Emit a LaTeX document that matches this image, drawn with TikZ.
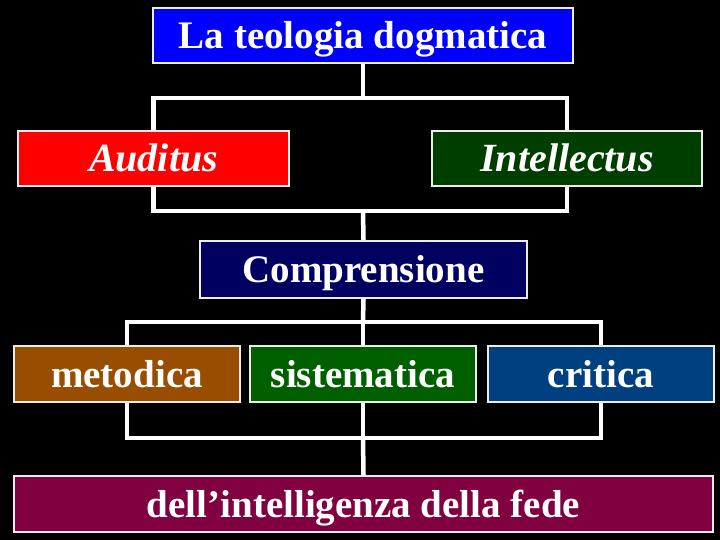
\documentclass[tikz,border=0pt]{standalone}
\usepackage{fontspec}
\setmainfont{Liberation Serif}
\usetikzlibrary{positioning}

\definecolor{blueTop}{RGB}{0,0,255}
\definecolor{redAud}{RGB}{255,0,0}
\definecolor{greenInt}{RGB}{0,62,0}
\definecolor{navyComp}{RGB}{0,0,96}
\definecolor{brownMet}{RGB}{153,77,0}
\definecolor{greenSis}{RGB}{0,96,0}
\definecolor{blueCrit}{RGB}{0,64,128}
\definecolor{plumFede}{RGB}{128,0,64}

\begin{document}
\begin{tikzpicture}[x=1pt,y=-1pt,
  box/.style={draw=white!85!gray, line width=2pt, text=white, inner sep=0pt,
    text height=33pt, text depth=7pt,
    minimum height=55pt, font=\bfseries\fontsize{39}{44}\selectfont},
  link/.style={draw=white, line width=4.5pt}]
\fill[black] (0,0) rectangle (720,540);
\useasboundingbox (0,0) rectangle (720,540);

\node[box, fill=blueTop, minimum width=420pt] (teol) at (363,35.5) {La teologia dogmatica};

\node[box, fill=redAud, minimum width=271pt, font=\bfseries\itshape\fontsize{40}{44}\selectfont] (aud) at (153.5,158.5) {Auditus};
\node[box, fill=greenInt, minimum width=270pt, font=\bfseries\itshape\fontsize{40}{44}\selectfont] (intel) at (567,158.5) {Intellectus};

\node[box, fill=navyComp, minimum width=327pt, minimum height=57pt] (comp) at (363.5,269.5) {Comprensione};

\node[box, fill=brownMet, minimum width=226pt, minimum height=56pt] (met) at (127,374) {metodica};
\node[box, fill=greenSis, minimum width=226pt, minimum height=56pt] (sis) at (363,374) {sistematica};
\node[box, fill=blueCrit, minimum width=226pt, minimum height=56pt] (crit) at (601,374) {critica};

\node[box, fill=plumFede, minimum width=699pt, minimum height=56pt] (fede) at (363.5,504) {dell’intelligenza della fede};

% junctions
\coordinate (j1) at (363,98);
\coordinate (k1) at (363,211);
\coordinate (j2) at (363,322);
\coordinate (k2) at (363,438);

\draw[link] (teol.south) -- (j1);
\draw[link] (aud.north) |- (j1) -| (intel.north);
\draw[link] (aud.south) |- (k1) -| (intel.south);
\draw[link] (k1) -- (comp.north);

\draw[link] (comp.south) -- (j2);
\draw[link] (met.north) |- (j2) -| (crit.north);
\draw[link] (j2) -- (sis.north);
\draw[link] (met.south) |- (k2) -| (crit.south);
\draw[link] (sis.south) -- (k2);
\draw[link] (k2) -- (fede.north);
\end{tikzpicture}
\end{document}
